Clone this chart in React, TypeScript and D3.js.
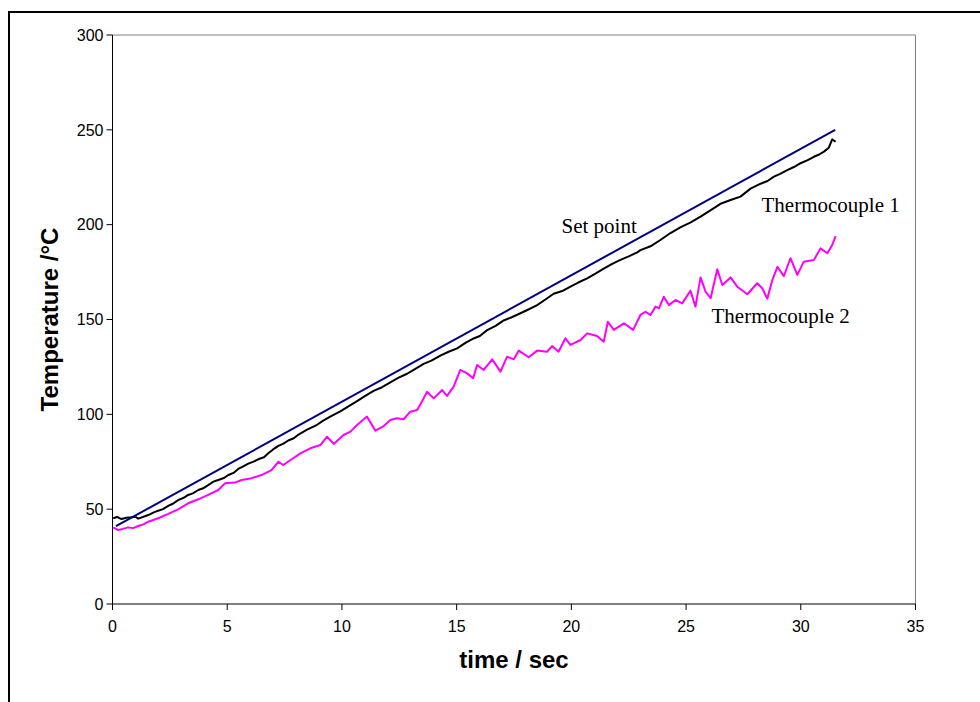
import React from "react";
import * as d3 from "d3";

// ---- data (time in s, temperature in °C) ----
const setPointT = [0.15, 31.5];
const setPointV = [41, 250];

const tc1T = [0.03, 0.2, 0.39, 0.6, 0.83, 1.0, 1.12, 1.35, 1.56, 1.8, 1.99, 2.2, 2.43, 2.65, 2.86, 3.1, 3.3, 3.5, 3.74, 3.95, 4.17, 4.4, 4.61, 4.85, 5.05, 5.3, 5.48, 5.7, 5.92, 6.15, 6.35, 6.6, 6.79, 7.0, 7.23, 7.45, 7.66, 7.9, 8.07, 8.48, 8.85, 9.2, 9.55, 9.93, 10.3, 10.66, 11.0, 11.38, 11.75, 12.11, 12.45, 12.84, 13.2, 13.56, 13.9, 14.29, 14.65, 15.02, 15.4, 15.74, 16.01, 16.33, 16.7, 17.05, 17.4, 17.78, 18.15, 18.51, 18.9, 19.23, 19.6, 19.96, 20.3, 20.69, 21.05, 21.41, 21.8, 22.14, 22.5, 22.87, 23.01, 23.45, 23.88, 24.32, 24.75, 25.2, 25.63, 26.06, 26.5, 26.94, 27.37, 27.81, 28.25, 28.55, 28.83, 29.1, 29.41, 29.7, 29.99, 30.3, 30.57, 30.8, 31.01, 31.22, 31.37, 31.52];
const tc1V = [45.2, 45.9, 44.8, 45.5, 45.7, 46.0, 45.0, 46.0, 46.9, 48.3, 49.2, 50.0, 51.7, 53.0, 54.8, 56.0, 57.5, 58.3, 60.1, 61.0, 62.7, 64.5, 65.4, 66.4, 68.0, 69.3, 71.2, 72.6, 74.0, 75.1, 76.3, 77.4, 79.5, 81.5, 83.4, 84.6, 86.2, 87.4, 89.0, 91.9, 94.0, 96.8, 99.2, 101.6, 104.3, 107.0, 109.6, 112.4, 114.3, 116.9, 119.2, 121.4, 124.0, 126.6, 128.3, 131.0, 133.0, 134.8, 137.8, 140.0, 141.3, 144.4, 146.6, 149.5, 151.2, 153.3, 155.4, 157.6, 160.8, 163.6, 165.0, 167.3, 169.5, 171.7, 174.2, 176.8, 179.5, 181.4, 183.3, 185.4, 186.6, 188.6, 191.9, 195.6, 198.6, 201.2, 204.2, 207.5, 211.0, 213.0, 214.8, 219.0, 221.6, 223.0, 225.3, 226.8, 228.8, 230.4, 232.4, 234.0, 235.8, 237.0, 238.5, 240.6, 245.0, 243.7];

const tc2T = [0.03, 0.25, 0.45, 0.68, 0.9, 1.12, 1.35, 1.56, 1.99, 2.43, 2.86, 3.3, 3.74, 4.17, 4.61, 4.9, 5.34, 5.63, 6.06, 6.5, 6.93, 7.23, 7.44, 7.81, 8.19, 8.62, 9.06, 9.35, 9.64, 10.07, 10.37, 10.66, 11.09, 11.46, 11.82, 12.11, 12.4, 12.69, 12.98, 13.28, 13.56, 13.71, 14.0, 14.37, 14.58, 14.87, 15.16, 15.46, 15.72, 15.89, 16.18, 16.55, 16.91, 17.2, 17.49, 17.71, 18.14, 18.51, 18.94, 19.16, 19.44, 19.74, 19.96, 20.4, 20.69, 21.12, 21.41, 21.59, 21.85, 22.29, 22.69, 23.01, 23.23, 23.45, 23.67, 23.82, 24.03, 24.25, 24.54, 24.83, 25.19, 25.41, 25.63, 25.85, 26.07, 26.36, 26.58, 26.94, 27.23, 27.67, 28.1, 28.32, 28.54, 28.76, 28.98, 29.26, 29.55, 29.85, 30.13, 30.57, 30.86, 31.16, 31.37, 31.52];
const tc2V = [40.4, 39.0, 39.6, 40.4, 40.0, 41.1, 42.0, 43.4, 45.2, 47.5, 49.9, 53.1, 55.2, 57.5, 60.1, 63.6, 64.0, 65.4, 66.3, 68.0, 70.6, 75.0, 73.3, 76.3, 79.4, 82.1, 83.8, 88.2, 84.4, 89.1, 90.9, 94.4, 98.8, 91.4, 93.8, 97.0, 97.9, 97.4, 101.4, 102.3, 108.4, 111.9, 108.4, 112.8, 109.7, 114.6, 123.4, 121.6, 119.0, 126.0, 123.4, 129.0, 122.5, 130.4, 129.0, 133.6, 130.1, 133.6, 133.0, 136.0, 133.0, 140.1, 136.6, 139.2, 142.7, 141.3, 138.3, 148.8, 144.5, 148.0, 144.5, 152.4, 154.1, 152.4, 156.8, 155.9, 162.0, 157.6, 160.3, 158.5, 165.2, 156.8, 172.2, 164.7, 161.2, 176.5, 168.2, 172.2, 167.3, 163.3, 169.1, 166.5, 161.0, 170.8, 177.8, 172.9, 182.3, 173.5, 180.5, 181.4, 187.5, 184.9, 189.3, 194.0];

const xTicks = [0, 5, 10, 15, 20, 25, 30, 35];
const yTicks = [0, 50, 100, 150, 200, 250, 300];

const labelText = ["Set point", "Thermocouple 1", "Thermocouple 2"];
const labelT = [19.57, 28.29, 26.11];
const labelV = [195.6, 206.7, 148.2];

const xTitle = "time / sec";
const yTitle = "Temperature /°C";

const W = 980;
const H = 702;
const plot = { left: 112.5, right: 915.5, top: 35, bottom: 604 };

export default function App() {
  const x = d3.scaleLinear().domain([0, 35]).range([plot.left, plot.right]);
  const y = d3.scaleLinear().domain([0, 300]).range([plot.bottom, plot.top]);

  const line = d3
    .line<[number, number]>()
    .x((d) => x(d[0]))
    .y((d) => y(d[1]));

  const sp = setPointT.map((t, i) => [t, setPointV[i]] as [number, number]);
  const tc1 = tc1T.map((t, i) => [t, tc1V[i]] as [number, number]);
  const tc2 = tc2T.map((t, i) => [t, tc2V[i]] as [number, number]);

  const sans = "'Liberation Sans', Arial, sans-serif";
  const serif = "'Liberation Serif', 'Times New Roman', serif";

  return (
    <svg
      width={W}
      height={H}
      style={{ position: "absolute", left: 0, top: 0, background: "#fff" }}
    >
      {/* outer frame */}
      <rect x={9} y={12} width={1000} height={720} fill="none" stroke="#000" strokeWidth={2} />

      {/* plot area border (top/right gray) */}
      <line x1={plot.left} x2={plot.right} y1={plot.top} y2={plot.top} stroke="#808080" strokeWidth={1} />
      <line x1={plot.right} x2={plot.right} y1={plot.top} y2={plot.bottom} stroke="#808080" strokeWidth={1} />

      {/* axes */}
      <line x1={plot.left} x2={plot.left} y1={plot.top} y2={plot.bottom} stroke="#000" strokeWidth={1} />
      <line x1={plot.left} x2={plot.right} y1={plot.bottom} y2={plot.bottom} stroke="#000" strokeWidth={1} />

      {yTicks.map((v) => (
        <g key={"y" + v}>
          <line x1={plot.left - 6} x2={plot.left} y1={y(v)} y2={y(v)} stroke="#000" strokeWidth={1} />
          <text
            x={plot.left - 9}
            y={y(v)}
            dy="0.36em"
            textAnchor="end"
            fontFamily={sans}
            fontSize={16}
            fill="#000"
          >
            {v}
          </text>
        </g>
      ))}
      {xTicks.map((v) => (
        <g key={"x" + v}>
          <line x1={x(v)} x2={x(v)} y1={plot.bottom} y2={plot.bottom + 6} stroke="#000" strokeWidth={1} />
          <text
            x={x(v)}
            y={plot.bottom + 28}
            textAnchor="middle"
            fontFamily={sans}
            fontSize={16}
            fill="#000"
          >
            {v}
          </text>
        </g>
      ))}

      {/* series */}
      <path d={line(tc2) || ""} fill="none" stroke="#FF00FF" strokeWidth={2} strokeLinejoin="round" />
      <path d={line(tc1) || ""} fill="none" stroke="#000" strokeWidth={2} strokeLinejoin="round" />
      <path d={line(sp) || ""} fill="none" stroke="#000080" strokeWidth={2} />

      {/* annotations */}
      {labelText.map((s, i) => (
        <text
          key={s}
          x={x(labelT[i])}
          y={y(labelV[i])}
          fontFamily={serif}
          fontSize={21}
          fill="#000"
        >
          {s}
        </text>
      ))}

      {/* axis titles */}
      <text
        x={(plot.left + plot.right) / 2}
        y={668}
        textAnchor="middle"
        fontFamily={sans}
        fontWeight="bold"
        fontSize={24}
        fill="#000"
      >
        {xTitle}
      </text>
      <text
        transform={`translate(58, ${(plot.top + plot.bottom) / 2}) rotate(-90)`}
        textAnchor="middle"
        fontFamily={sans}
        fontWeight="bold"
        fontSize={24}
        fill="#000"
      >
        {yTitle}
      </text>
    </svg>
  );
}
